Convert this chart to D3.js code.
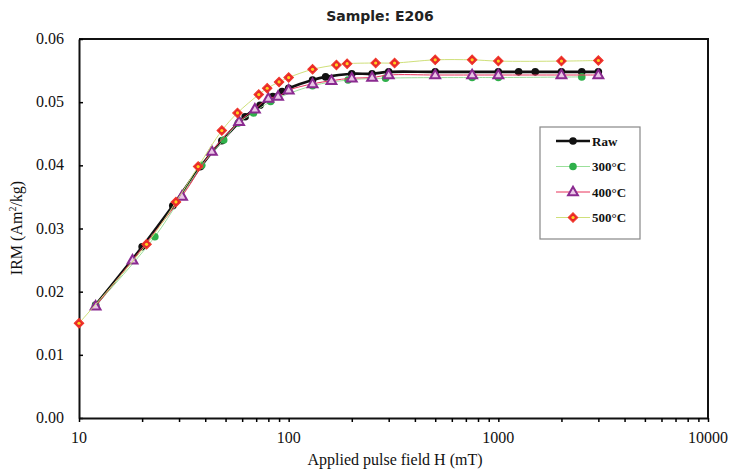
<!DOCTYPE html>
<html>
<head>
<meta charset="utf-8">
<script src="https://cdn.jsdelivr.net/npm/d3@7"></script>
<style>
  body { margin: 0; background: #fff; }
  text { font-family: "Liberation Serif", "Times New Roman", serif; }
</style>
</head>
<body>
<div id="container"></div>
<script>
var w = 732, h = 472;

// field (mT) and IRM (Am2/kg) for each step
var rawH   = [12, 20, 28, 38, 48, 62, 73, 84, 93, 100, 130, 150, 200, 250, 300, 500, 1000, 1250, 1500, 2000, 2500, 3000];
var rawM   = [0.0179, 0.0271, 0.0336, 0.0398, 0.0439, 0.0477, 0.0495, 0.0509, 0.0517, 0.0522, 0.0535, 0.0540, 0.0545, 0.0545, 0.0548, 0.0548, 0.0548, 0.0548, 0.0548, 0.0548, 0.0548, 0.0548];
var h300   = [12, 23, 38.5, 49, 57.5, 68, 82, 130, 192, 290, 750, 1000, 2500];
var m300   = [0.0178, 0.0287, 0.0400, 0.0440, 0.0467, 0.0483, 0.0501, 0.0526, 0.0535, 0.0538, 0.0539, 0.0539, 0.0540];
var h400   = [12, 18, 31, 43, 58, 69, 80, 89, 100, 130, 160, 200, 250, 300, 500, 750, 1000, 2000, 3000];
var m400   = [0.0177, 0.0250, 0.0351, 0.0422, 0.0469, 0.0489, 0.0506, 0.0509, 0.0519, 0.0529, 0.0534, 0.0538, 0.0539, 0.0543, 0.0543, 0.0543, 0.0543, 0.0543, 0.0543];
var h500   = [10, 21, 29, 37, 48, 57, 72, 79, 90, 100, 130, 169, 190, 260, 320, 500, 750, 1000, 2000, 3000];
var m500   = [0.0150, 0.0275, 0.0342, 0.0398, 0.0455, 0.0483, 0.0512, 0.0522, 0.0532, 0.0539, 0.0552, 0.0559, 0.0561, 0.0562, 0.0562, 0.0567, 0.0567, 0.0565, 0.0565, 0.0566];

var yTicks = [0, 0.01, 0.02, 0.03, 0.04, 0.05, 0.06];
var xTicks = [10, 100, 1000, 10000];
var seriesNames = ["Raw", "300°C", "400°C", "500°C"];

var svg = d3.select("#container").append("svg")
  .attr("width", w).attr("height", h)
  .style("background-color", "white");

var pl = 79, pr = 708, pt = 39, pb = 418;

var x = d3.scaleLog().domain([10, 10000]).range([pl, pr]);
var y = d3.scaleLinear().domain([0, 0.06]).range([pb, pt]);

// title
svg.append("text")
  .attr("x", 380).attr("y", 21)
  .attr("text-anchor", "middle")
  .style("font-family", "'DejaVu Sans', sans-serif")
  .style("font-size", "14px")
  .style("font-weight", "bold")
  .attr("fill", "#222")
  .text("Sample: E206");

// frame top + right
svg.append("path")
  .attr("d", "M" + pl + "," + pt + "H" + pr + "V" + pb)
  .attr("fill", "none").attr("stroke", "#111").attr("stroke-width", 2);

// y axis, ticks inside
var yAxis = svg.append("g")
  .attr("transform", "translate(" + pl + ",0)")
  .call(d3.axisRight(y).tickValues(yTicks).tickSize(4).tickSizeOuter(0).tickFormat(""));
yAxis.select(".domain").attr("stroke-width", 2).attr("stroke", "#111");
yAxis.selectAll(".tick line").attr("stroke-width", 1.5);

svg.append("g").selectAll("text")
  .data(yTicks).enter().append("text")
  .attr("x", 64).attr("y", function(d) { return y(d) + 5; })
  .attr("text-anchor", "end")
  .style("font-size", "16px")
  .attr("fill", "#111")
  .text(function(d) { return d3.format(".2f")(d); });

// x axis, ticks hang below
var minor = [];
[10, 100, 1000].forEach(function(b) { for (var k = 2; k <= 9; k++) minor.push(b * k); });
var xAxis = svg.append("g")
  .attr("transform", "translate(0," + pb + ")")
  .call(d3.axisBottom(x).tickValues(xTicks.concat(minor)).tickSize(4).tickSizeOuter(0).tickFormat(""));
xAxis.select(".domain").attr("stroke-width", 2).attr("stroke", "#111");
xAxis.selectAll(".tick line").attr("stroke-width", 1.5);

svg.append("g").selectAll("text")
  .data(xTicks).enter().append("text")
  .attr("x", function(d) { return x(d); }).attr("y", 443)
  .attr("text-anchor", "middle")
  .style("font-size", "16px")
  .attr("fill", "#111")
  .text(function(d) { return d; });

// axis titles
svg.append("text")
  .attr("x", 395).attr("y", 465)
  .attr("text-anchor", "middle")
  .style("font-size", "16px").attr("fill", "#111")
  .text("Applied pulse field H (mT)");

svg.append("text")
  .attr("transform", "translate(22,228) rotate(-90)")
  .attr("text-anchor", "middle")
  .style("font-size", "16px").attr("fill", "#111")
  .html("IRM (Am<tspan font-size='10px' dy='-6'>2</tspan><tspan dy='6'>/kg)</tspan>");

function pts(hs, ms) { return hs.map(function(v, i) { return [v, ms[i]]; }); }

var line = d3.line()
  .x(function(d) { return x(d[0]); })
  .y(function(d) { return y(d[1]); })
  .curve(d3.curveCatmullRom.alpha(0.5));

var series = [
  { data: pts(rawH, rawM), stroke: "#111", width: 2.6, mark: "raw" },
  { data: pts(h300, m300), stroke: "#9be09b", width: 1, mark: "green" },
  { data: pts(h400, m400), stroke: "#e8325a", width: 1, mark: "tri" },
  { data: pts(h500, m500), stroke: "#cfe07a", width: 1, mark: "dia" }
];

function drawMark(g, kind, cx, cy) {
  if (kind === "raw") {
    g.append("circle").attr("cx", cx).attr("cy", cy).attr("r", 3.8).attr("fill", "#111");
  } else if (kind === "green") {
    g.append("circle").attr("cx", cx).attr("cy", cy).attr("r", 3.8).attr("fill", "#2fb04a");
  } else if (kind === "tri") {
    g.append("path")
      .attr("d", d3.symbol().type(d3.symbolTriangle).size(42)())
      .attr("transform", "translate(" + cx + "," + (cy + 0.5) + ")")
      .attr("fill", "#e9c6e6").attr("stroke", "#8a2a90").attr("stroke-width", 2);
  } else {
    g.append("path")
      .attr("d", d3.symbol().type(d3.symbolSquare).size(46)())
      .attr("transform", "translate(" + cx + "," + cy + ") rotate(45)")
      .attr("fill", "#e8262a").attr("stroke", "#f03a2c").attr("stroke-width", 1);
    g.append("circle").attr("cx", cx).attr("cy", cy).attr("r", 1.6).attr("fill", "#ffd21f");
  }
}

series.forEach(function(s) {
  var g = svg.append("g");
  g.append("path").datum(s.data)
    .attr("d", line)
    .attr("fill", "none")
    .attr("stroke", s.stroke)
    .attr("stroke-width", s.width);
  s.data.forEach(function(d) { drawMark(g, s.mark, x(d[0]), y(d[1])); });
});

// legend
var lg = svg.append("g");
lg.append("rect")
  .attr("x", 540).attr("y", 127).attr("width", 100).attr("height", 112)
  .attr("fill", "white").attr("stroke", "#888").attr("stroke-width", 1.2);

series.forEach(function(s, i) {
  var ly = 141 + i * 25.5;
  lg.append("line")
    .attr("x1", 556).attr("x2", 590).attr("y1", ly).attr("y2", ly)
    .attr("stroke", s.stroke).attr("stroke-width", s.width);
  drawMark(lg, s.mark, 573, ly);
  lg.append("text")
    .attr("x", 592).attr("y", ly + 4.5)
    .style("font-size", "13px").style("font-weight", "bold")
    .attr("fill", "#111")
    .text(seriesNames[i]);
});
</script>
</body>
</html>
